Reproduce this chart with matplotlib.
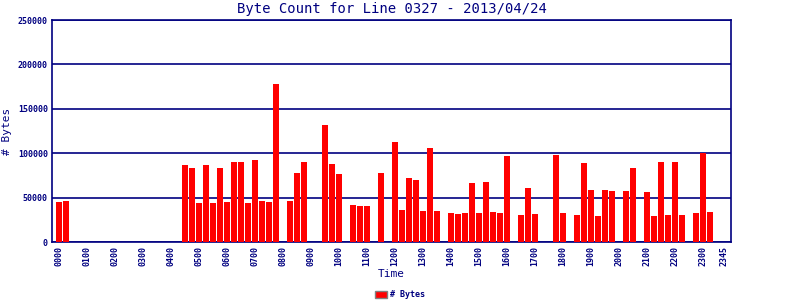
import matplotlib
matplotlib.use("Agg")
import matplotlib.pyplot as plt
from matplotlib.patches import Patch

navy = "#000080"

# byte counts per 15-minute slot (0000 .. 2345), 0 = no bar
slot_bytes = [
    45400, 46500, 0, 0, 0, 0, 0, 0, 0, 0, 0, 0, 0, 0, 0, 0,
    0, 0, 86800, 83400, 44300, 86800, 44300, 83400, 45400, 90200, 90200, 44300, 92400, 46500, 45400, 178000,
    0, 46500, 77500, 89800, 0, 0, 132300, 87600, 76400, 0, 41700, 40600, 40600, 0, 77500, 0,
    112200, 36100, 71900, 69700, 35000, 105500, 35000, 0, 32800, 31700, 32800, 66300, 32800, 67500, 33900, 32800,
    96500, 0, 30500, 60700, 31700, 0, 0, 97600, 32800, 0, 30500, 88700, 58500, 29400, 58500, 57400,
    0, 57400, 83100, 0, 56300, 29400, 89800, 30500, 89800, 30500, 0, 32800, 99900, 33900, 0, 0,
]
hour_labels = ["%02d00" % h for h in range(24)] + ["2345"]
y_ticks = [0, 50000, 100000, 150000, 200000, 250000]

fig = plt.figure(figsize=(8, 3), dpi=100)
ax = fig.add_axes([0.065, 0.193, 0.849, 0.74])

slots = list(range(len(slot_bytes)))
ax.bar(slots, slot_bytes, width=0.86, color="#ff0000", zorder=3)

ax.set_xlim(-1, 96)
ax.set_ylim(0, 250000)
ax.set_yticks(y_ticks)
ax.set_yticklabels([str(v) for v in y_ticks])
ax.set_xticks(list(range(0, 96, 4)) + [95])
ax.set_xticklabels(hour_labels, rotation=90)
ax.yaxis.grid(True, color=navy, linewidth=1.2, zorder=1)
for s in ax.spines.values():
    s.set_color(navy)
    s.set_linewidth(1.2)
ax.tick_params(length=0, colors=navy, pad=3)
for lab in ax.get_xticklabels() + ax.get_yticklabels():
    lab.set_fontfamily("DejaVu Sans Mono")
    lab.set_fontsize(6)
    lab.set_fontweight("bold")

ax.set_title("Byte Count for Line 0327 - 2013/04/24", color=navy, fontsize=10,
             family="DejaVu Sans Mono", pad=5)
ax.set_ylabel("# Bytes", color=navy, fontsize=8, family="DejaVu Sans Mono", labelpad=4)
ax.set_xlabel("Time", color=navy, fontsize=8, family="DejaVu Sans Mono", labelpad=2)

fig.legend(handles=[Patch(facecolor="#ff0000", edgecolor="gray", label="# Bytes")],
           loc="center", bbox_to_anchor=(0.5, 0.017), frameon=False,
           prop={"family": "DejaVu Sans Mono", "size": 6, "weight": "bold"},
           handlelength=1.4, handleheight=0.9, handletextpad=0.4, labelcolor=navy)

fig.savefig("out.png", dpi=100)
